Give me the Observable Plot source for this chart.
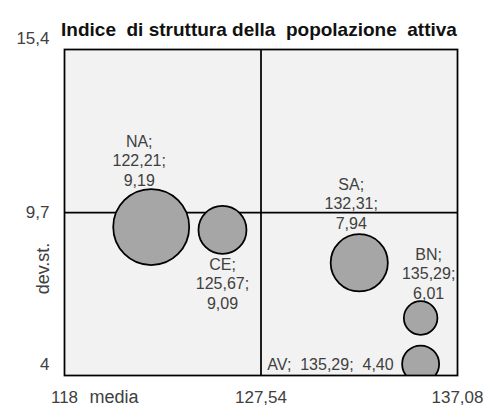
<!DOCTYPE html>
<html><head><meta charset="utf-8">
<script src="https://cdn.jsdelivr.net/npm/d3@7"></script>
<script src="https://cdn.jsdelivr.net/npm/@observablehq/plot@0.6"></script>
<style>
html,body{margin:0;padding:0;background:#fff;}
svg text{white-space:pre;}
</style></head><body><div id="chart"></div>
<script>
const provinces = ["NA", "CE", "SA", "BN", "AV"];
const media = [122.21, 125.67, 132.31, 135.29, 135.29];
const devSt = [9.19, 9.09, 7.94, 6.01, 4.40];
const bubbleSize = [100, 39.9, 56.6, 19.5, 23.7];
const xTicks = [118, 127.54, 137.08];
const yTicks = [4, 9.7, 15.4];
const xCross = [127.54];
const yCross = [9.7];
const title = "Indice  di struttura della  popolazione  attiva";
const xLabel = "media";
const yLabel = "dev.st.";

const fmt2 = v => d3.format(".2f")(v).replace(".", ",");
const fmtTick = v => String(v).replace(".", ",");

const rows = provinces.map((p, i) => ({name: p, x: media[i], y: devSt[i], s: bubbleSize[i]}));

const labelLayout = {
  NA: {dx: -12, dy: -67, sep: "\n", anchor: "middle"},
  CE: {dx: 0, dy: 53, sep: "\n", anchor: "middle"},
  SA: {dx: -8, dy: -60, sep: "\n", anchor: "middle"},
  BN: {dx: 8, dy: -45, sep: "\n", anchor: "middle"},
  AV: {dx: -27, dy: 0, sep: "  ", anchor: "end"}
};

const textColor = "#404040";
const labelMarks = rows.map(r => {
  const L = labelLayout[r.name];
  return Plot.text([r], {
    x: "x", y: "y",
    text: d => `${d.name};${L.sep}${fmt2(d.x)};${L.sep}${fmt2(d.y)}`,
    dx: L.dx, dy: L.dy, textAnchor: L.anchor, lineAnchor: "middle",
    lineHeight: 1.22, fontSize: 16, fill: textColor
  });
});

const chart = Plot.plot({
  width: 489, height: 406,
  marginLeft: 64, marginRight: 32, marginTop: 49, marginBottom: 31,
  style: {fontFamily: "'Liberation Sans', Arial, sans-serif", fontSize: "16px", background: "#fff"},
  x: {domain: [118, 137.08]},
  y: {domain: [4, 15.4]},
  r: {type: "sqrt", domain: [0, 100], range: [0, 38]},
  marks: [
    Plot.frame({fill: "#f2f2f2"}),
    Plot.ruleX(xCross, {stroke: "#000", strokeWidth: 1.75}),
    Plot.ruleY(yCross, {stroke: "#000", strokeWidth: 1.75}),
    Plot.dot(rows, {x: "x", y: "y", r: "s", fill: "#a6a6a6", stroke: "#000", strokeWidth: 1.75, clip: true}),
    ...labelMarks,
    Plot.frame({stroke: "#000", strokeWidth: 1.75}),
    Plot.axisX(xTicks, {tickSize: 0, tickPadding: 15, tickFormat: fmtTick, fontSize: 17, fill: textColor, label: null}),
    Plot.axisY(yTicks.filter(t => t === 9.7), {tickSize: 0, tickPadding: 15, tickFormat: fmtTick, fontSize: 17, fill: textColor, label: null}),
    Plot.axisY(yTicks.filter(t => t !== 9.7), {tickSize: 0, tickPadding: 15, tickFormat: fmtTick, fontSize: 17, fill: textColor, label: null, dy: -11}),
    Plot.text([xLabel], {frameAnchor: "bottom-left", dx: 25, dy: 15, textAnchor: "start", lineAnchor: "top", fontSize: 18, fill: textColor}),
    Plot.text([yLabel], {frameAnchor: "left", rotate: -90, dx: -21, dy: 56, textAnchor: "middle", lineAnchor: "middle", fontSize: 18, fill: textColor}),
    Plot.text([title], {frameAnchor: "top", dx: -2, dy: -27, textAnchor: "middle", fontSize: 19, fontWeight: "bold", fill: "#111"})
  ]
});
document.getElementById("chart").appendChild(chart);
</script></body></html>
